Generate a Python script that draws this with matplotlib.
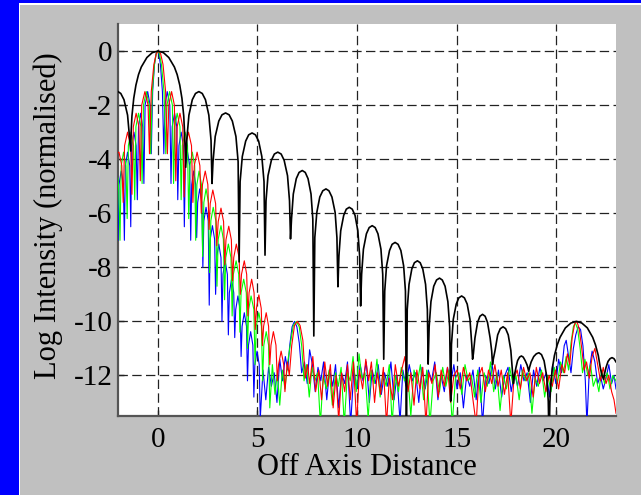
import numpy as np
import matplotlib
matplotlib.use("Agg")
import matplotlib.pyplot as plt
from matplotlib.patches import Rectangle

plt.rcParams["font.family"] = ["Liberation Serif", "DejaVu Serif"]
plt.rcParams["axes.unicode_minus"] = False

# ---------------------------------------------------------------
# Single-slit (black) far-field profile, sampled lobe by lobe
# ---------------------------------------------------------------
black_x = [-2.00, -1.86, -1.70, -1.52, -1.41, -1.36,
           -1.34, -1.30, -1.21, -1.10, -0.97, -0.83, -0.55, -0.28, 0.00,
           0.28, 0.55, 0.83, 0.97, 1.10, 1.21, 1.30, 1.34, 1.40,
           1.45, 1.56, 1.73, 1.89, 2.06, 2.23, 2.39, 2.56, 2.67, 2.72,
           2.77, 2.88, 3.06, 3.22, 3.40, 3.58, 3.74, 3.92, 4.03, 4.08,
           4.13, 4.24, 4.41, 4.56, 4.73, 4.90, 5.06, 5.22, 5.33, 5.38,
           5.43, 5.53, 5.70, 5.85, 6.02, 6.19, 6.34, 6.51, 6.61, 6.66,
           6.71, 6.80, 6.95, 7.09, 7.25, 7.40, 7.54, 7.69, 7.78, 7.83,
           7.88, 7.98, 8.13, 8.28, 8.44, 8.59, 8.74, 8.90, 8.99, 9.04,
           9.09, 9.18, 9.33, 9.46, 9.61, 9.76, 9.90, 10.04, 10.13, 10.18,
           10.23, 10.32, 10.47, 10.61, 10.76, 10.91, 11.05, 11.20, 11.29, 11.34,
           11.39, 11.48, 11.63, 11.76, 11.91, 12.06, 12.20, 12.34, 12.43, 12.48,
           12.52, 12.61, 12.75, 12.88, 13.03, 13.17, 13.30, 13.44, 13.53, 13.57,
           13.62, 13.71, 13.85, 13.99, 14.14, 14.28, 14.42, 14.56, 14.65, 14.70,
           14.74, 14.83, 14.98, 15.11, 15.25, 15.39, 15.53, 15.67, 15.76, 15.80,
           15.84, 15.92, 16.05, 16.17, 16.30, 16.43, 16.55, 16.68, 16.76, 16.80,
           16.84, 16.93, 17.06, 17.19, 17.33, 17.46, 17.59, 17.72, 17.81, 17.85,
           17.90, 17.98, 18.06, 18.16, 18.25, 18.34, 18.44, 18.54, 18.62,
           18.66, 18.74, 18.87, 19.00, 19.13, 19.26, 19.39, 19.52, 19.60, 19.64,
           19.68, 19.72, 19.80, 19.91, 20.05, 20.19, 20.46, 20.74, 21.01,
           21.28, 21.56, 21.83, 21.97, 22.11, 22.22, 22.30, 22.38,
           22.42, 22.50, 22.60, 22.70, 22.80, 22.90, 23.00]
black_y = [-1.50, -1.57, -1.80, -2.37, -3.30, -3.70,
           -3.00, -2.40, -1.75, -1.26, -0.87, -0.59, -0.24, -0.06, 0.00,
           -0.06, -0.24, -0.59, -0.87, -1.26, -1.75, -2.40, -3.00, -4.30,
           -3.30, -2.37, -1.80, -1.57, -1.50, -1.57, -1.80, -2.37, -3.30, -4.90,
           -4.09, -3.16, -2.59, -2.36, -2.29, -2.36, -2.59, -3.16, -4.09, -7.80,
           -4.83, -3.90, -3.33, -3.10, -3.03, -3.10, -3.33, -3.90, -4.83, -7.55,
           -5.54, -4.61, -4.04, -3.81, -3.74, -3.81, -4.04, -4.61, -5.54, -6.95,
           -6.22, -5.29, -4.72, -4.49, -4.42, -4.49, -4.72, -5.29, -6.22, -10.54,
           -6.90, -5.97, -5.40, -5.17, -5.10, -5.17, -5.40, -5.97, -6.90, -8.72,
           -7.58, -6.65, -6.08, -5.85, -5.78, -5.85, -6.08, -6.65, -7.58, -9.43,
           -8.26, -7.33, -6.76, -6.53, -6.46, -6.53, -6.76, -7.33, -8.26, -11.40,
           -8.88, -7.95, -7.38, -7.15, -7.08, -7.15, -7.38, -7.95, -8.88, -13.60,
           -9.56, -8.63, -8.06, -7.83, -7.76, -7.83, -8.06, -8.63, -9.56, -11.58,
           -10.20, -9.27, -8.70, -8.47, -8.40, -8.47, -8.70, -9.27, -10.20, -12.95,
           -10.86, -9.93, -9.36, -9.13, -9.06, -9.13, -9.36, -9.93, -10.86, -11.40,
           -11.20, -10.61, -10.04, -9.81, -9.74, -9.81, -10.04, -10.61, -11.10, -11.60,
           -11.40, -11.07, -10.50, -10.27, -10.20, -10.27, -10.50, -11.07, -11.90, -12.30,
           -12.00, -11.70, -11.45, -11.32, -11.28, -11.32, -11.45, -11.62, -11.85,
           -11.70, -11.50, -11.30, -11.20, -11.16, -11.23, -11.46, -12.03, -12.96, -14.50,
           -13.02, -12.40, -11.75, -11.26, -10.87, -10.59, -10.24, -10.06, -10.00,
           -10.06, -10.24, -10.59, -10.87, -11.26, -11.75, -12.00, -12.15,
           -11.95, -11.70, -11.48, -11.38, -11.34, -11.38, -11.50]

# ---------------------------------------------------------------
# Grating profiles at three wavelengths: central lobes
# ---------------------------------------------------------------
red_lobe_x = [-2.00, -1.95, -1.81, -1.74,
              -1.67, -1.52, -1.37, -1.30,
              -1.23, -1.09, -0.95, -0.88,
              -0.81, -0.65, -0.49, -0.42,
              -0.33, -0.20, -0.08, 0.03, 0.14, 0.26, 0.39, 0.48,
              0.55, 0.69, 0.83, 0.90,
              0.97, 1.11, 1.25, 1.32,
              1.39, 1.54, 1.69, 1.76,
              1.83, 1.97, 2.11, 2.18,
              2.24, 2.38, 2.51, 2.57,
              2.63, 2.76, 2.90, 2.96,
              3.03, 3.17, 3.30, 3.36,
              3.42, 3.56, 3.69, 3.75,
              3.81, 3.94, 4.08, 4.14,
              4.20, 4.34, 4.46, 4.52,
              4.58, 4.71, 4.83, 4.89,
              4.95, 5.07, 5.19, 5.25,
              5.31, 5.44, 5.56, 5.62,
              5.68, 5.80, 5.93, 6.00,
              6.06, 6.19, 6.32, 6.38]
red_lobe_y = [-3.76, -3.74, -4.24, -5.60,
              -3.50, -3.00, -3.50, -5.30,
              -2.80, -2.30, -2.80, -4.80,
              -2.00, -1.50, -2.00, -3.80,
              -1.50, -0.50, -0.10, 0.00, -0.10, -0.50, -1.50, -3.80,
              -2.00, -1.50, -2.00, -4.80,
              -2.80, -2.30, -2.80, -5.40,
              -3.50, -3.00, -3.50, -5.60,
              -4.24, -3.74, -4.24, -6.00,
              -4.94, -4.44, -4.94, -6.60,
              -5.64, -5.14, -5.64, -7.20,
              -6.31, -5.81, -6.31, -7.90,
              -6.98, -6.48, -6.98, -8.50,
              -7.64, -7.14, -7.64, -9.00,
              -8.26, -7.76, -8.26, -9.80,
              -8.94, -8.44, -8.94, -10.30,
              -9.52, -9.02, -9.52, -10.90,
              -10.18, -9.68, -10.18, -11.60,
              -10.88, -10.38, -10.88, -12.20,
              -11.60, -11.10, -11.60, -12.60]

green_lobe_x = [-2.00, -1.96, -1.90,
                -1.84, -1.72, -1.60, -1.54,
                -1.48, -1.35, -1.22, -1.16,
                -1.10, -0.97, -0.85, -0.79,
                -0.72, -0.58, -0.43, -0.36,
                -0.28, -0.17, -0.08, 0.00, 0.08, 0.18, 0.31, 0.40,
                0.46, 0.59, 0.73, 0.79,
                0.85, 0.97, 1.11, 1.17,
                1.23, 1.37, 1.49, 1.55,
                1.61, 1.73, 1.85, 1.90,
                1.96, 2.07, 2.19, 2.25,
                2.31, 2.42, 2.54, 2.60,
                2.66, 2.78, 2.91, 2.97,
                3.03, 3.17, 3.29, 3.35,
                3.41, 3.54, 3.67, 3.73,
                3.79, 3.93, 4.06, 4.12,
                4.18, 4.31, 4.44, 4.50,
                4.56, 4.68, 4.82, 4.88,
                4.94, 5.07, 5.20, 5.26,
                5.32, 5.44, 5.56, 5.62]
green_lobe_y = [-4.70, -5.20, -7.00,
                -4.24, -3.74, -4.24, -6.20,
                -3.50, -3.00, -3.50, -5.50,
                -2.80, -2.30, -2.80, -4.90,
                -2.00, -1.50, -2.00, -3.80,
                -1.50, -0.50, -0.10, 0.00, -0.10, -0.50, -1.50, -3.80,
                -2.00, -1.50, -2.00, -4.90,
                -2.80, -2.30, -2.80, -5.50,
                -3.50, -3.00, -3.50, -6.20,
                -4.24, -3.74, -4.24, -7.00,
                -4.94, -4.44, -4.94, -7.60,
                -5.60, -5.10, -5.60, -8.20,
                -6.28, -5.78, -6.28, -8.70,
                -6.96, -6.46, -6.96, -9.20,
                -7.64, -7.14, -7.64, -9.80,
                -8.26, -7.76, -8.26, -10.40,
                -8.94, -8.44, -8.94, -11.00,
                -9.56, -9.06, -9.56, -11.60,
                -10.18, -9.68, -10.18, -12.20,
                -10.88, -10.38, -10.88, -13.20]

blue_lobe_x = [-2.00,
               -1.95, -1.84, -1.73, -1.68,
               -1.63, -1.52, -1.41, -1.36,
               -1.31, -1.20, -1.09, -1.03,
               -0.97, -0.86, -0.76, -0.70,
               -0.64, -0.51, -0.39, -0.33,
               -0.26, -0.17, -0.09, -0.02, 0.05, 0.13, 0.23, 0.30,
               0.36, 0.47, 0.60, 0.66,
               0.72, 0.84, 0.95, 1.00,
               1.06, 1.17, 1.28, 1.33,
               1.38, 1.49, 1.60, 1.65,
               1.70, 1.80, 1.90, 1.95,
               2.00, 2.10, 2.21, 2.26,
               2.31, 2.42, 2.53, 2.58,
               2.63, 2.74, 2.85, 2.90,
               2.95, 3.06, 3.17, 3.22,
               3.27, 3.38, 3.49, 3.54,
               3.59, 3.70, 3.81, 3.86,
               3.91, 4.02, 4.13, 4.18,
               4.23, 4.34, 4.45, 4.50,
               4.55, 4.66, 4.77, 4.82,
               4.87, 4.98, 5.09, 5.14]
blue_lobe_y = [-7.00,
               -4.94, -4.44, -4.94, -7.00,
               -4.24, -3.74, -4.24, -6.50,
               -3.50, -3.00, -3.50, -5.50,
               -2.80, -2.30, -2.80, -4.90,
               -2.00, -1.50, -2.00, -3.80,
               -1.50, -0.50, -0.10, 0.00, -0.10, -0.50, -1.50, -3.80,
               -2.00, -1.50, -2.00, -4.90,
               -2.80, -2.30, -2.80, -5.50,
               -3.50, -3.00, -3.50, -6.50,
               -4.24, -3.74, -4.24, -7.00,
               -4.94, -4.44, -4.94, -6.90,
               -5.60, -5.10, -5.60, -8.00,
               -6.28, -5.78, -6.28, -9.40,
               -6.96, -6.46, -6.96, -9.00,
               -7.64, -7.14, -7.64, -10.00,
               -8.26, -7.76, -8.26, -10.50,
               -8.94, -8.44, -8.94, -10.60,
               -9.56, -9.06, -9.56, -11.30,
               -10.18, -9.68, -10.18, -12.20,
               -10.88, -10.38, -10.88, -12.80,
               -11.60, -11.10, -11.60, -13.60]

# ---------------------------------------------------------------
# Grating profiles: noise floor with the higher orders near 7 and 21
# ---------------------------------------------------------------
red_floor_x = [6.50, 6.60, 6.72, 6.86, 7.00, 7.14, 7.28, 7.40, 7.52, 7.62,
               7.78, 7.92, 8.08, 8.22, 8.38, 8.52, 8.66, 8.80, 8.95, 9.08,
               9.22, 9.38, 9.52, 9.66, 9.82, 9.98, 10.12, 10.28, 10.44, 10.58,
               10.72, 10.88, 11.02, 11.18, 11.32, 11.48, 11.62, 11.78, 11.92, 12.08,
               12.24, 12.40, 12.56, 12.70, 12.86, 13.00, 13.16, 13.30, 13.46, 13.60,
               13.76, 13.92, 14.08, 14.22, 14.38, 14.54, 14.70, 14.86, 15.02, 15.18,
               15.34, 15.50, 15.66, 15.82, 15.98, 16.12, 16.28, 16.44, 16.60, 16.76,
               16.92, 17.08, 17.24, 17.40, 17.56, 17.72, 17.88, 18.04, 18.20, 18.36,
               18.52, 18.68, 18.84, 19.00, 19.16, 19.32, 19.48, 19.64, 19.80, 19.96,
               20.12, 20.28, 20.42, 20.56, 20.68, 20.80, 20.92, 21.04, 21.16, 21.28,
               21.40, 21.52, 21.66, 21.80, 21.94, 22.08, 22.22, 22.36, 22.50, 22.64,
               22.78, 22.90, 23.00]
red_floor_y = [-11.5, -12.0, -10.9, -10.15, -10.0, -10.15, -10.7, -12.1, -11.6, -12.3,
               -11.3, -12.6, -11.8, -12.9, -11.5, -12.4, -11.6, -13.2, -12.0, -13.7,
               -11.9, -12.6, -11.6, -12.9, -11.5, -13.8, -11.8, -12.5, -11.4, -12.2,
               -11.5, -13.0, -11.9, -12.7, -11.7, -13.8, -12.1, -12.9, -11.6, -12.4,
               -11.8, -11.3, -12.6, -11.9, -13.1, -11.8, -12.5, -11.7, -13.8, -11.9,
               -12.3, -11.6, -12.8, -11.8, -12.4, -11.7, -13.0, -12.0, -11.8, -12.5,
               -11.7, -12.2, -11.9, -12.9, -13.8, -12.0, -11.7, -12.6, -11.8, -12.3,
               -11.6, -12.4, -11.8, -12.7, -11.9, -13.8, -12.1, -11.8, -12.5, -11.7,
               -12.2, -11.9, -12.8, -11.7, -12.3, -11.9, -12.6, -12.0, -12.4, -11.8,
               -12.5, -11.6, -11.9, -11.2, -11.6, -10.6, -10.1, -10.0, -10.3, -11.0,
               -11.8, -11.5, -12.1, -11.3, -11.0, -11.6, -12.2, -11.7, -12.3, -12.0,
               -12.6, -12.9, -13.4]

green_floor_x = [5.75, 5.88, 6.00, 6.12, 6.25, 6.38, 6.52, 6.66, 6.80, 6.95,
                 7.10, 7.22, 7.34, 7.46, 7.60, 7.74, 7.88, 8.02, 8.16, 8.30,
                 8.46, 8.60, 8.76, 8.92, 9.06, 9.20, 9.36, 9.52, 9.66, 9.80,
                 9.96, 10.10, 10.24, 10.40, 10.56, 10.70, 10.86, 11.00, 11.16, 11.30,
                 11.46, 11.62, 11.76, 11.92, 12.08, 12.22, 12.38, 12.54, 12.70, 12.86,
                 13.02, 13.18, 13.34, 13.50, 13.66, 13.82, 13.98, 14.14, 14.30, 14.46,
                 14.62, 14.78, 14.94, 15.10, 15.26, 15.42, 15.58, 15.74, 15.90, 16.06,
                 16.22, 16.38, 16.54, 16.70, 16.86, 17.02, 17.18, 17.34, 17.50, 17.66,
                 17.82, 17.98, 18.14, 18.30, 18.46, 18.62, 18.78, 18.94, 19.10, 19.26,
                 19.42, 19.58, 19.74, 19.90, 20.06, 20.22, 20.36, 20.50, 20.62, 20.74,
                 20.86, 20.96, 21.08, 21.20, 21.32, 21.44, 21.58, 21.72, 21.86, 22.00,
                 22.14, 22.28, 22.42, 22.56, 22.70, 22.84, 23.00]
green_floor_y = [-11.6, -12.7, -11.9, -13.1, -11.8, -12.5, -11.5, -10.8, -10.15, -10.0,
                 -10.2, -10.9, -12.2, -11.6, -12.8, -11.7, -12.2, -11.9, -13.8, -12.0,
                 -12.5, -11.8, -13.1, -11.9, -12.4, -11.7, -13.8, -11.9, -12.2, -11.3,
                 -12.6, -11.2, -12.1, -11.9, -13.6, -11.8, -12.3, -11.4, -12.8, -11.9,
                 -12.4, -11.6, -13.8, -12.0, -12.6, -11.7, -12.2, -11.9, -13.5, -11.8,
                 -12.3, -11.6, -12.9, -11.8, -13.8, -12.2, -11.9, -12.6, -11.7, -12.4,
                 -11.8, -13.8, -12.1, -11.9, -12.7, -11.6, -12.2, -12.0, -12.8, -11.8,
                 -13.0, -11.9, -12.4, -11.5, -12.6, -11.9, -13.3, -12.0, -12.5, -11.7,
                 -12.3, -12.0, -12.9, -11.8, -12.2, -11.9, -13.4, -12.1, -12.4, -11.8,
                 -12.8, -12.0, -12.6, -11.7, -12.3, -11.5, -11.9, -11.3, -11.8, -10.8,
                 -10.2, -10.05, -10.3, -11.0, -11.9, -11.4, -12.0, -11.6, -12.4, -12.1,
                 -12.6, -11.8, -12.3, -11.9, -12.5, -12.0, -12.2]

blue_floor_x = [5.28, 5.42, 5.56, 5.70, 5.84, 5.98, 6.12, 6.26, 6.40, 6.52,
                6.62, 6.74, 6.86, 6.98, 7.10, 7.22, 7.36, 7.50, 7.62, 7.76,
                7.90, 8.04, 8.18, 8.32, 8.48, 8.62, 8.78, 8.92, 9.08, 9.22,
                9.38, 9.52, 9.68, 9.84, 10.00, 10.16, 10.30, 10.46, 10.62, 10.76,
                10.92, 11.06, 11.22, 11.38, 11.54, 11.70, 11.86, 12.00, 12.16, 12.30,
                12.46, 12.62, 12.78, 12.94, 13.10, 13.26, 13.42, 13.58, 13.74, 13.90,
                14.06, 14.22, 14.38, 14.54, 14.70, 14.86, 15.02, 15.18, 15.34, 15.50,
                15.66, 15.82, 15.98, 16.14, 16.30, 16.46, 16.62, 16.78, 16.94, 17.10,
                17.26, 17.42, 17.58, 17.74, 17.90, 18.06, 18.22, 18.38, 18.54, 18.70,
                18.86, 19.02, 19.18, 19.34, 19.50, 19.66, 19.82, 19.98, 20.12, 20.26,
                20.40, 20.50, 20.62, 20.74, 20.86, 20.98, 21.10, 21.22, 21.34, 21.46,
                21.54, 21.66, 21.80, 21.94, 22.08, 22.22, 22.36, 22.50, 22.64, 22.78,
                22.90, 23.00]
blue_floor_y = [-11.8, -12.9, -11.7, -12.4, -11.9, -13.0, -11.4, -12.2, -11.3, -11.8,
                -10.9, -10.2, -10.0, -10.2, -10.8, -11.9, -11.5, -12.3, -11.05, -11.6,
                -12.6, -11.7, -12.2, -11.5, -12.9, -11.8, -12.4, -11.6, -13.2, -11.9,
                -12.3, -11.5, -13.8, -11.8, -12.5, -11.6, -12.2, -11.5, -13.0, -11.8,
                -12.3, -11.6, -12.7, -11.9, -12.4, -11.5, -12.9, -12.0, -13.7, -11.8,
                -12.4, -11.6, -12.2, -11.9, -13.0, -11.7, -12.5, -11.8, -12.2, -11.5,
                -12.9, -12.0, -12.6, -11.7, -12.3, -11.6, -12.5, -11.9, -13.2, -12.0,
                -12.4, -11.8, -12.9, -11.7, -13.8, -12.0, -12.3, -11.6, -12.5, -11.8,
                -12.8, -12.0, -11.7, -12.6, -11.9, -12.4, -11.6, -12.2, -11.9, -13.0,
                -11.8, -12.4, -11.7, -12.2, -11.9, -12.8, -11.6, -12.3, -11.4, -11.9,
                -10.9, -10.7, -11.3, -11.9, -11.0, -10.5, -10.2, -10.3, -10.9, -12.2,
                -13.8, -11.8, -11.1, -11.5, -12.3, -12.0, -12.5, -12.1, -11.6, -12.3,
                -12.0, -12.5]

x_ticks = [0, 5, 10, 15, 20]
y_ticks = [0, -2, -4, -6, -8, -10, -12]
x_label = "Off Axis Distance"
y_label = "Log Intensity (normalised)"

# ---------------------------------------------------------------
W, H = 641, 495
fig = plt.figure(figsize=(W / 100, H / 100), dpi=100, facecolor="#c0c0c0")


def px_rect(x0, y0, x1, y1, color):
    """Filled rectangle given in figure pixel coordinates (origin top-left)."""
    fig.add_artist(Rectangle((x0 / W, 1 - y1 / H), (x1 - x0) / W, (y1 - y0) / H,
                             transform=fig.transFigure, facecolor=color,
                             edgecolor="none", zorder=0))


# window frame: blue strip on the left and top with a thin white bevel
px_rect(0, 0, 19, H, "#0000ff")
px_rect(0, 0, W, 3, "#0000ff")
px_rect(19, 3, 20.5, H, "#ffffff")
px_rect(19, 3, W, 4.5, "#ffffff")

ax = fig.add_axes([118 / W, 1 - 416 / H, (616 - 118) / W, (416 - 24) / H])
ax.set_facecolor("white")

ax.plot(np.concatenate([blue_lobe_x, blue_floor_x]),
        np.concatenate([blue_lobe_y, blue_floor_y]),
        color="#0000ff", lw=0.8, zorder=3)
ax.plot(np.concatenate([green_lobe_x, green_floor_x]),
        np.concatenate([green_lobe_y, green_floor_y]),
        color="#00ff00", lw=0.8, zorder=3)
ax.plot(np.concatenate([red_lobe_x, red_floor_x]),
        np.concatenate([red_lobe_y, red_floor_y]),
        color="#ff0000", lw=0.8, zorder=3)
ax.plot(black_x, black_y, color="black", lw=1.2, zorder=4)

ax.set_xlim(-2, 23)
ax.set_ylim(-13.5, 1)
ax.set_xticks(x_ticks)
ax.set_yticks(y_ticks)
ax.set_xticklabels([str(v) for v in x_ticks])
ax.set_yticklabels([str(v) for v in y_ticks])

ax.set_axisbelow(True)
ax.grid(True, color="#222222", lw=0.9, linestyle=(0, (7.5, 3.5)))

for side in ("top", "right"):
    ax.spines[side].set_visible(False)
for side in ("left", "bottom"):
    ax.spines[side].set_color("#555555")
    ax.spines[side].set_linewidth(1.6)

ax.tick_params(axis="both", direction="in", length=4, width=1, color="#222222",
               labelsize=21, labelcolor="black")
ax.tick_params(axis="x", pad=8)
ax.tick_params(axis="y", pad=4)

ax.set_xlabel(x_label, fontsize=22)
ax.set_ylabel(y_label, fontsize=22)
ax.xaxis.set_label_coords(0.5, -0.094)
ax.yaxis.set_label_coords(-0.110, 0.51)

fig.savefig("out.png", dpi=100, facecolor=fig.get_facecolor())
